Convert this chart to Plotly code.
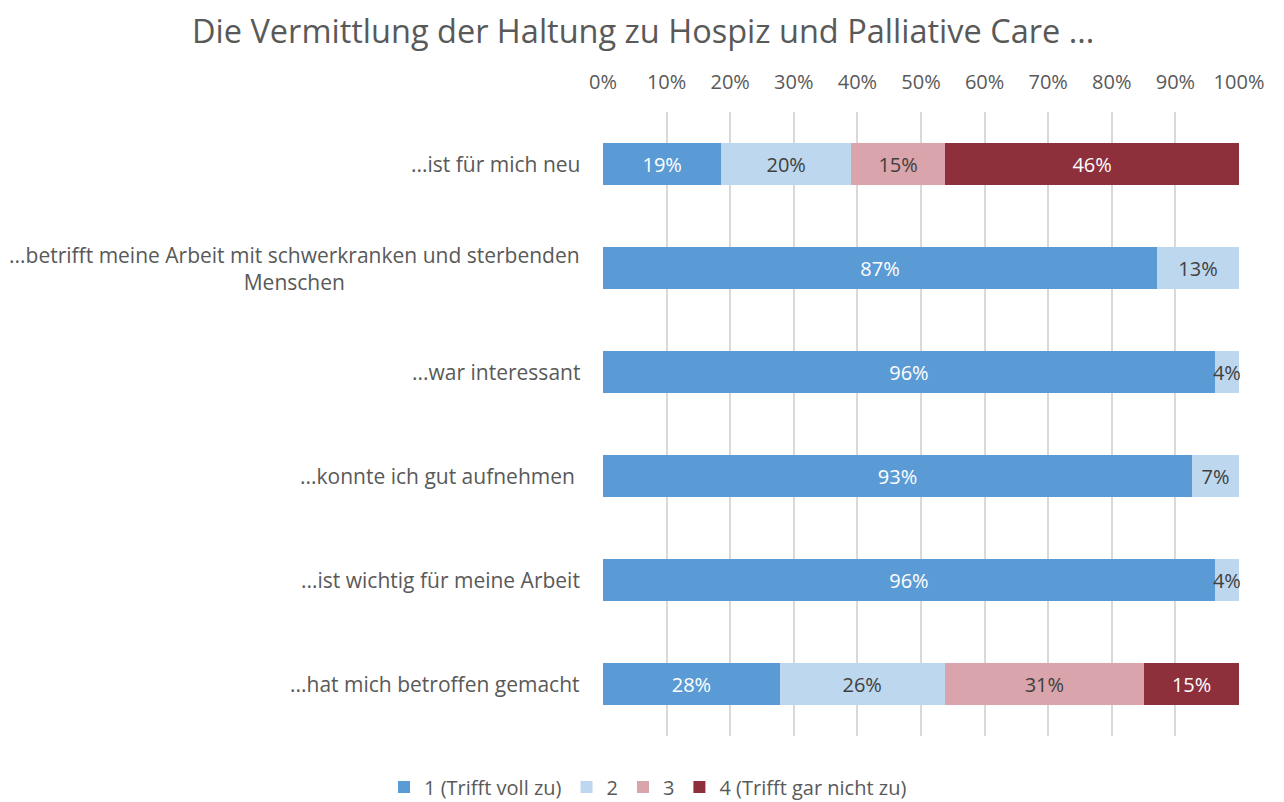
import plotly.graph_objects as go

title = "Die Vermittlung der Haltung zu Hospiz und Palliative Care ..."
categories = [
    "...ist für mich neu",
    "...betrifft meine Arbeit mit schwerkranken und sterbenden<br>Menschen",
    "...war interessant",
    "...konnte ich gut aufnehmen\u00a0",
    "...ist wichtig für meine Arbeit",
    "...hat mich betroffen gemacht",
]
series_names = ["1 (Trifft voll zu)", "2", "3", "4 (Trifft gar nicht zu)"]
s1 = [18.6, 87.1, 96.2, 92.6, 96.2, 27.8]
s2 = [20.4, 12.9, 3.8, 7.4, 3.8, 25.9]
s3 = [14.8, None, None, None, None, 31.4]
s4 = [46.2, None, None, None, None, 14.9]
tick_vals = list(range(0, 101, 10))
tick_text = [f"{v}%" for v in tick_vals]

colors = ["#5B9BD5", "#BDD7EE", "#D9A4AB", "#8E2F3C"]
text_colors = ["#FFFFFF", "#404040", "#404040", "#FFFFFF"]
FONT = "Open Sans"
GREY = "#595959"

fig = go.Figure()
for name, vals, c, tc in zip(series_names, [s1, s2, s3, s4], colors, text_colors):
    fig.add_trace(go.Bar(
        y=categories, x=vals, name=name, orientation="h",
        marker=dict(color=c, line=dict(width=0)),
        texttemplate="%{x:.0f}%", textposition="inside", insidetextanchor="middle",
        textangle=0, constraintext="none", cliponaxis=False,
        insidetextfont=dict(family=FONT, size=20, color=tc),
        hoverinfo="skip",
    ))

fig.update_layout(
    barmode="stack", bargap=0.6,
    width=1276, height=794,
    margin=dict(l=595, r=45, t=104, b=66, autoexpand=False),
    paper_bgcolor="white", plot_bgcolor="white",
    font=dict(family=FONT, color=GREY, size=20),
    showlegend=True,
    legend=dict(orientation="h", x=0.0708, xanchor="center", y=-0.0817, yanchor="middle",
                font=dict(family=FONT, size=20, color=GREY), traceorder="normal",
                itemwidth=30),
    xaxis=dict(range=[0, 100], side="top", tickvals=tick_vals, ticktext=tick_text,
               showgrid=True, gridcolor="#D9D9D9", gridwidth=2, zeroline=False,
               showline=False, ticks="", ticklabelstandoff=18, automargin=False,
               tickfont=dict(family=FONT, size=20, color=GREY)),
    yaxis=dict(autorange="reversed", showticklabels=False, showgrid=False,
               zeroline=False, showline=False, ticks="", automargin=False),
)

fig.add_annotation(x=0.0629, xref="paper", y=1.1314, yref="paper", text=title,
                   xanchor="center", yanchor="middle", showarrow=False,
                   font=dict(family=FONT, size=32.5, color=GREY))

for cat in categories:
    fig.add_annotation(x=0, xref="paper", y=cat, yref="y", text=cat,
                       xanchor="right", xshift=-21, showarrow=False, align="center",
                       font=dict(family=FONT, size=21, color=GREY))

fig.write_html("out.html")
